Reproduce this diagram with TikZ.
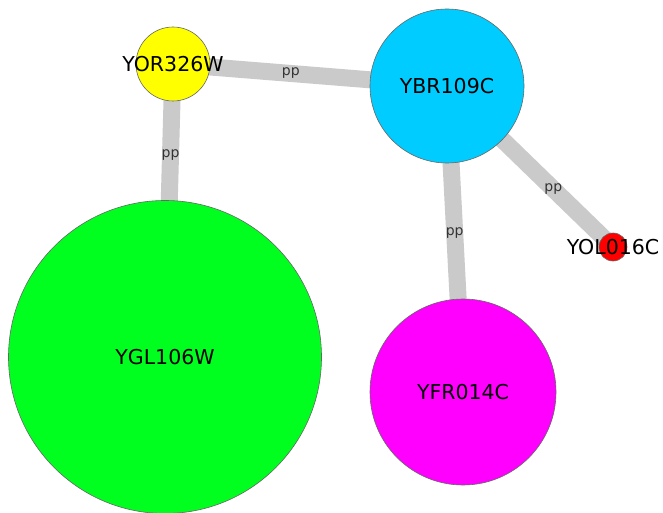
\documentclass[tikz,border=0pt]{standalone}
\usepackage{fontspec}
\setmainfont{DejaVu Sans}
\usetikzlibrary{backgrounds}
\definecolor{ybrcyan}{HTML}{00CCFF}
\definecolor{yglgreen}{HTML}{00FF1E}
\definecolor{yoryellow}{HTML}{FFFF00}
\definecolor{yfrmagenta}{HTML}{FF00FF}
\definecolor{yolred}{HTML}{FF0000}
\definecolor{edgegray}{HTML}{CACACA}

\begin{document}
\begin{tikzpicture}[x=1pt, y=-1pt,
        prot/.style={circle, draw=black!60, line width=0.6pt, inner sep=0pt, label={[font=\fontsize{20.5}{24}\selectfont]center:#1}},
        pp/.style={line width=17pt, edgegray},
        lbl/.style={font=\fontsize{14}{16}\selectfont, text=black!80}]
      \useasboundingbox (0,0) rectangle (663,513);
      \node[prot=YOR326W, fill=yoryellow, minimum size=74pt] (yor) at (173,64) {};
      \node[prot=YBR109C, fill=ybrcyan, minimum size=154pt] (ybr) at (447,86) {};
      \node[prot=YOL016C, fill=yolred, minimum size=28pt] (yol) at (613,247) {};
      \node[prot=YGL106W, fill=yglgreen, minimum size=313pt] (ygl) at (165,357) {};
      \node[prot=YFR014C, fill=yfrmagenta, minimum size=186pt] (yfr) at (463,392) {};
      \begin{scope}[on background layer]
        \draw[pp] (yor.center) -- node[lbl, pos=0.43] (e1) {pp} (ybr.center);
        \draw[pp] (yor.center) -- node[lbl, pos=0.31] (e2) {pp} (ygl.center);
        \draw[pp] (ybr.center) -- node[lbl, pos=0.48] (e3) {pp} (yfr.center);
        \draw[pp] (ybr.center) -- node[lbl, pos=0.64] (e4) {pp} (yol.center);
      \end{scope}
      \end{tikzpicture}
\end{document}
